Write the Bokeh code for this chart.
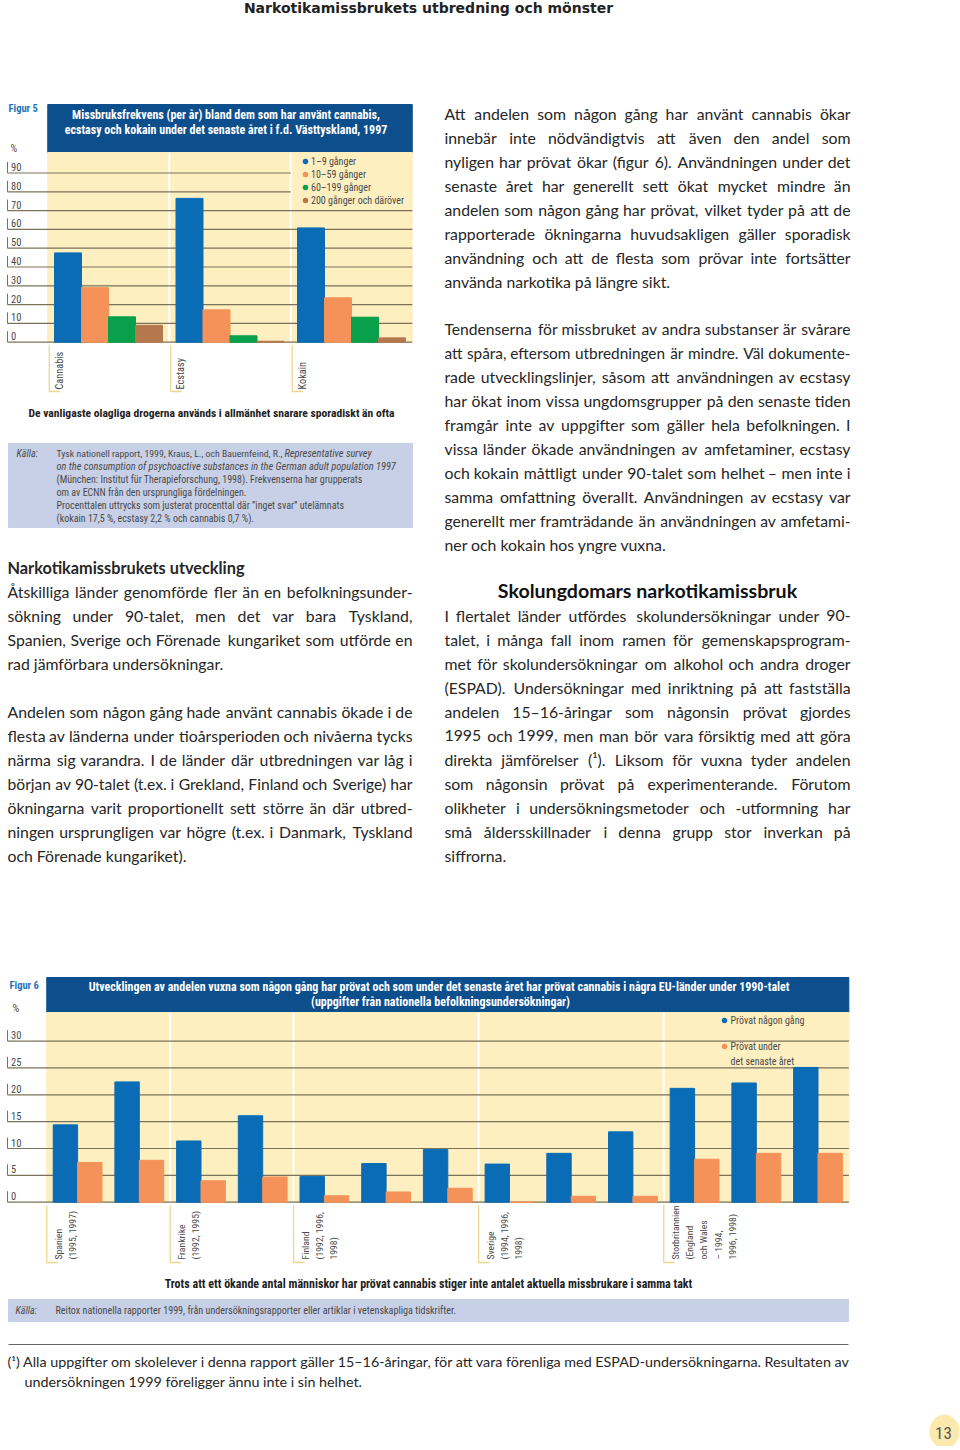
import numpy as np
from bokeh.plotting import figure
from bokeh.models import Range1d
from bokeh.core.properties import value
from bokeh.embed import file_html
from bokeh.resources import INLINE

# ---------------- data ----------------
page_title = "Narkotikamissbrukets utbredning och mönster"

f5_label = "Figur 5"
f5_title = ["Missbruksfrekvens (per år) bland dem som har använt cannabis,",
            "ecstasy och kokain under det senaste året i f.d. Västtyskland, 1997"]
f5_categories = ["Cannabis", "Ecstasy", "Kokain"]
f5_series = ["1–9 gånger", "10–59 gånger", "60–199 gånger", "200 gånger och däröver"]
f5_freq_1_9 = [47.5, 76.5, 60.8]
f5_freq_10_59 = [29.0, 17.2, 23.6]
f5_freq_60_199 = [13.5, 3.4, 13.3]
f5_freq_200 = [9.0, 0.5, 2.3]
f5_ticks = [0, 10, 20, 30, 40, 50, 60, 70, 80, 90]
f5_caption = "De vanligaste olagliga drogerna används i allmänhet snarare sporadiskt än ofta"
f5_source_lead = "Tysk nationell rapport, 1999, Kraus, L., och Bauernfeind, R.,"
f5_source_lead_it = "Representative survey"
f5_source_it = "on the consumption of psychoactive substances in the German adult population 1997"
f5_source_rest = ["(München: Institut für Therapieforschung, 1998). Frekvenserna har grupperats",
                  "om av ECNN från den ursprungliga fördelningen.",
                  "Procenttalen uttrycks som justerat procenttal där ”inget svar” utelämnats",
                  "(kokain 17,5 %, ecstasy 2,2 % och cannabis 0,7 %)."]

f6_label = "Figur 6"
f6_title = ["Utvecklingen av andelen vuxna som någon gång har prövat och som under det senaste året har prövat cannabis  i några EU-länder under 1990-talet",
            "(uppgifter från nationella befolkningsundersökningar)"]
f6_countries = ["Spanien\n(1995, 1997)",
                "Frankrike\n(1992, 1995)",
                "Finland\n(1992, 1996,\n   1998)",
                "Sverige\n(1994, 1996,\n   1998)",
                "Storbritannien\n(England\noch Wales\n   – 1994,\n1996, 1998)"]
f6_group_sizes = [2, 2, 3, 3, 3]
f6_ever = [14.4, 22.4, 11.4, 16.1, 4.8, 7.2, 9.8, 7.1, 9.1, 13.1, 21.2, 22.2, 25.1]
f6_last_year = [7.4, 7.8, 4.0, 4.7, 1.2, 1.9, 2.6, 0.0, 1.1, 1.1, 8.0, 9.1, 9.1]
f6_ticks = [0, 5, 10, 15, 20, 25, 30]
f6_series = ["Prövat någon gång", "Prövat under\ndet senaste året"]
f6_caption = "Trots att ett ökande antal människor har prövat cannabis stiger inte antalet aktuella missbrukare i samma takt"
f6_source = "Reitox nationella rapporter 1999, från undersökningsrapporter eller artiklar i vetenskapliga tidskrifter."

left_heading = "Narkotikamissbrukets utveckling"
left_par1 = ["Åtskilliga länder genomförde fler än en befolkningsunder-",
             "sökning under 90-talet, men det var bara Tyskland,",
             "Spanien, Sverige och Förenade kungariket som utförde en",
             "rad jämförbara undersökningar."]
left_par2 = ["Andelen som någon gång hade använt cannabis ökade i de",
             "flesta av länderna under tioårsperioden och nivåerna tycks",
             "närma sig varandra. I de länder där utbredningen var låg i",
             "början av 90-talet (t.ex. i Grekland, Finland och Sverige) har",
             "ökningarna varit proportionellt sett större än där utbred-",
             "ningen ursprungligen var högre (t.ex. i Danmark, Tyskland",
             "och Förenade kungariket)."]
right_par1 = ["Att andelen som någon gång har använt cannabis ökar",
              "innebär inte nödvändigtvis att även den andel som",
              "nyligen har prövat ökar (figur 6). Användningen under det",
              "senaste året har generellt sett ökat mycket mindre än",
              "andelen som någon gång har prövat, vilket tyder på att de",
              "rapporterade ökningarna huvudsakligen gäller sporadisk",
              "användning och att de flesta som prövar inte fortsätter",
              "använda narkotika på längre sikt."]
right_par2 = ["Tendenserna för missbruket av andra substanser är svårare",
              "att spåra, eftersom utbredningen är mindre. Väl dokumente-",
              "rade utvecklingslinjer, såsom att användningen av ecstasy",
              "har ökat inom vissa ungdomsgrupper på den senaste tiden",
              "framgår inte av uppgifter som gäller hela befolkningen. I",
              "vissa länder ökade användningen av amfetaminer, ecstasy",
              "och kokain måttligt under 90-talet som helhet – men inte i",
              "samma omfattning överallt. Användningen av ecstasy var",
              "generellt mer framträdande än användningen av amfetami-",
              "ner och kokain hos yngre vuxna."]
right_heading = "Skolungdomars narkotikamissbruk"
right_par3 = ["I flertalet länder utfördes skolundersökningar under 90-",
              "talet, i många fall inom ramen för gemenskapsprogram-",
              "met för skolundersökningar om alkohol och andra droger",
              "(ESPAD). Undersökningar med inriktning på att fastställa",
              "andelen 15–16-åringar som någonsin prövat gjordes",
              "1995 och 1999, men man bör vara försiktig med att göra",
              "direkta jämförelser (¹). Liksom för vuxna tyder andelen",
              "som någonsin prövat på experimenterande. Förutom",
              "olikheter i undersökningsmetoder och -utformning har",
              "små åldersskillnader i denna grupp stor inverkan på",
              "siffrorna."]
footnote = ["(¹) Alla uppgifter om skolelever i denna rapport gäller 15–16-åringar, för att vara förenliga med ESPAD-undersökningarna. Resultaten av",
            "undersökningen 1999 föreligger ännu inte i sin helhet."]
page_number = "13"

# ---------------- styling ----------------
BLUE = "#0b6cb6"
ORANGE = "#f5925a"
GREEN = "#08a04a"
BROWN = "#b5774d"
NAVY = "#0d4e8c"
CREAM = "#fdefc0"
GRID = "#7a7258"
SRC = "#c7d0e7"
FIGBLUE = "#1f74bb"
TAN = "#f0d590"
TXT = "#262626"
CTXT = "#4a4a4a"
COND = "Roboto Condensed, Liberation Sans Narrow, DejaVu Sans Condensed, Roboto"
BODY = "Lato"

W, H = 960, 1446
p = figure(width=W, height=H, x_range=Range1d(0, W), y_range=Range1d(H, 0),
           output_backend="svg", toolbar_location=None, min_border=0,
           x_axis_location=None, y_axis_location=None)
p.grid.visible = False
p.outline_line_color = None
p.background_fill_color = "white"
p.border_fill_color = "white"


def txt(x, y, s, size, font=COND, color=TXT, style="normal", align="left",
        baseline="middle", angle=0.0, xr="default", yr="default", lh=1.2,
        xo=0, yo=0):
    xs = x if isinstance(x, list) else [x]
    ys = y if isinstance(y, list) else [y]
    ss = s if isinstance(s, list) else [s]
    n = max(len(xs), len(ys), len(ss))
    xs = xs * n if len(xs) == 1 else xs
    ys = ys * n if len(ys) == 1 else ys
    ss = ss * n if len(ss) == 1 else ss
    fs = [f"{v}px" for v in size] if isinstance(size, list) else f"{size}px"
    p.text(x=xs, y=ys, text=ss, text_font=value(font), text_font_size=fs,
           text_color=color, text_font_style=style, text_align=align,
           text_baseline=baseline, angle=angle, x_range_name=xr, y_range_name=yr,
           text_line_height=lh, x_offset=xo, y_offset=yo)


# approximate Lato advance widths (em), used only to justify the body text
CW = {' ': 0.193, 'a': 0.49, 'b': 0.55, 'c': 0.45, 'd': 0.55, 'e': 0.51, 'f': 0.32, 'g': 0.49,
      'h': 0.55, 'i': 0.235, 'j': 0.235, 'k': 0.5, 'l': 0.235, 'm': 0.83, 'n': 0.55, 'o': 0.55,
      'p': 0.54, 'q': 0.55, 'r': 0.37, 's': 0.42, 't': 0.35, 'u': 0.55, 'v': 0.5, 'w': 0.76,
      'x': 0.49, 'y': 0.5, 'z': 0.44, 'å': 0.49, 'ä': 0.49, 'ö': 0.55, 'ü': 0.55, 'é': 0.51,
      'I': 0.27, 'J': 0.38, 'T': 0.56, 'F': 0.55, 'E': 0.56, 'L': 0.5, 'S': 0.52, 'P': 0.6,
      'A': 0.66, 'Å': 0.66, 'V': 0.66, 'M': 0.85, 'D': 0.72, 'G': 0.7, 'K': 0.64, 'U': 0.7,
      'N': 0.73, 'O': 0.77, 'R': 0.62, 'C': 0.65, 'B': 0.63,
      ',': 0.2, '.': 0.2, '-': 0.34, '(': 0.3, ')': 0.3, '–': 0.5, '¹': 0.35, ':': 0.2}


def est_w(word, size):
    tot = 0.0
    for c in word:
        if c in CW:
            tot += CW[c]
        elif c.isdigit():
            tot += 0.58
        elif c.isupper():
            tot += 0.65
        else:
            tot += 0.5
    return tot * size * 1.03


def body(lines, x0, x1, y0, size=15.8, lp=24, min_gap=3.6):
    lx, ly, lt, ls, rx, ry, rt, rs = [], [], [], [], [], [], [], []
    for li, line in enumerate(lines):
        y = y0 + lp * li
        words = line.split(" ")
        if li == len(lines) - 1 or len(words) == 1:
            lx.append(x0); ly.append(y); lt.append(line); ls.append(size)
            continue
        n = len(words)
        ws = [est_w(w, size) for w in words]
        sz = size
        gap = (x1 - x0 - sum(ws)) / (n - 1)
        if gap < min_gap:
            sc = (x1 - x0 - (n - 1) * min_gap) / sum(ws)
            ws = [w * sc for w in ws]
            sz = round(size * sc, 2)
            gap = min_gap
        half = (n + 1) // 2
        x = x0
        for i in range(half):
            lx.append(x); ly.append(y); lt.append(words[i]); ls.append(sz)
            x += ws[i] + gap
        x = x1
        for i in range(n - 1, half - 1, -1):
            rx.append(x); ry.append(y); rt.append(words[i]); rs.append(sz)
            x -= ws[i] + gap
    txt(lx, ly, lt, ls, font=BODY, color=TXT)
    if rt:
        txt(rx, ry, rt, rs, font=BODY, color=TXT, align="right")


# page header
txt(428, 7, page_title, 14, font="DejaVu Sans", style="bold", align="center", color="#222")

# ================= Figure 5 =================
F5_ZERO, F5_PX = 341.7, 1.88          # zero line (px), px per percent
F5_X0, F5_GP = 108.0, 121.5           # centre of first group, group pitch
F5_BW = 27.0 / F5_GP
F5_TOP, F5_HEAD = 152, 104
p.extra_y_ranges["f5y"] = Range1d(start=(F5_ZERO - H) / F5_PX, end=F5_ZERO / F5_PX)
p.extra_x_ranges["f5x"] = Range1d(start=(0 - F5_X0) / F5_GP, end=(W - F5_X0) / F5_GP)
n5 = len(f5_categories)
f5_px = lambda g: F5_X0 + g * F5_GP

p.quad(left=[-0.5], right=[n5 - 0.5], top=[F5_HEAD], bottom=[F5_TOP], color=NAVY, x_range_name="f5x")
p.quad(left=[-0.5], right=[n5 - 0.5], top=[F5_TOP], bottom=[F5_ZERO], color=CREAM, x_range_name="f5x")
p.segment(x0=[g + 0.5 for g in range(n5 - 1)], x1=[g + 0.5 for g in range(n5 - 1)],
          y0=F5_TOP, y1=F5_ZERO, line_color="white", line_width=2, x_range_name="f5x")
txt(f5_px(1.0) - 4, [F5_HEAD + 10, F5_HEAD + 25], f5_title, 12, color="white", style="bold", align="center")
txt(8, 108, f5_label, 10.5, color=FIGBLUE, style="bold")
txt(10, 148, "%", 10.5, color=CTXT)

legend_bottom_val = (F5_ZERO - 206) / F5_PX
x_end = [f5_px(n5 - 1.5) if t > legend_bottom_val else f5_px(n5 - 0.5) for t in f5_ticks]
p.segment(x0=[7] * len(f5_ticks), x1=x_end, y0=f5_ticks, y1=f5_ticks,
          line_color=GRID, line_width=1.2, y_range_name="f5y")
p.segment(x0=[7] * len(f5_ticks), x1=[7] * len(f5_ticks), y0=f5_ticks,
          y1=[t + 11 / F5_PX for t in f5_ticks], line_color=GRID, line_width=1, y_range_name="f5y")
txt(10.5, f5_ticks, [str(t) for t in f5_ticks], 10.5, color=CTXT, yr="f5y", yo=-6)

f5_values = [f5_freq_1_9, f5_freq_10_59, f5_freq_60_199, f5_freq_200]
f5_colors = [BLUE, ORANGE, GREEN, BROWN]
for j, (vals, col) in enumerate(zip(f5_values, f5_colors)):
    xs = [g + (j - 1.5) * F5_BW for g in range(n5)]
    p.vbar(x=xs, width=F5_BW, top=vals, bottom=0, color=col,
           x_range_name="f5x", y_range_name="f5y")

leg_y = [161 + 13 * i for i in range(len(f5_series))]
p.scatter(x=[305] * 4, y=leg_y, size=5.5, color=f5_colors, line_color=None)
txt(310.5, leg_y, f5_series, 10, color=CTXT)

for g, cat in enumerate(f5_categories):
    bx = f5_px(g - 0.5) + 1.5
    p.line(x=[bx, bx, bx + 11], y=[F5_ZERO + 3, 391, 391], line_color=TAN, line_width=1.3)
txt([g - 0.5 for g in range(n5)], 389, f5_categories, 10.3, color=CTXT,
    angle=np.pi / 2, baseline="top", xr="f5x", xo=5)

txt(211, 412, f5_caption, 11.6, color="#222", style="bold", align="center")

p.quad(left=[8], right=[412], top=[443], bottom=[527], color=SRC)
txt(16, 453, "Källa:", 10, color=CTXT, style="italic")
txt(56, 453, f5_source_lead, 9.8, color=CTXT)
txt(284, 453, f5_source_lead_it, 10.4, color=CTXT, style="italic")
txt(56, 466, f5_source_it, 10.4, color=CTXT, style="italic")
txt(56, [479 + 13 * i for i in range(len(f5_source_rest))], f5_source_rest, 10, color=CTXT)

# ================= body text =================
txt(7, 567, left_heading, 16.3, font=BODY, style="bold", color=TXT)
body(left_par1, 7, 412, 591)
body(left_par2, 7, 412, 711)
body(right_par1, 444, 850, 113)
body(right_par2, 444, 850, 328)
txt(647, 590, right_heading, 19.6, font=BODY, style="bold", color="#111", align="center")
body(right_par3, 444, 850, 615)

# ================= Figure 6 =================
F6_ZERO, F6_PX = 1201.7, 5.37
F6_X0, F6_GP = 77.1, 61.7
F6_BW = 24.4 / F6_GP
F6_TOP, F6_HEAD = 1012, 977
n6 = len(f6_ever)
p.extra_y_ranges["f6y"] = Range1d(start=(F6_ZERO - H) / F6_PX, end=F6_ZERO / F6_PX)
p.extra_x_ranges["f6x"] = Range1d(start=(0 - F6_X0) / F6_GP, end=(W - F6_X0) / F6_GP)
f6_px = lambda k: F6_X0 + k * F6_GP
group_start = [int(v) for v in np.cumsum([0] + f6_group_sizes[:-1])]

p.quad(left=[-0.5], right=[n6 - 0.5], top=[F6_HEAD], bottom=[F6_TOP], color=NAVY, x_range_name="f6x")
p.quad(left=[-0.5], right=[n6 - 0.5], top=[F6_TOP], bottom=[F6_ZERO], color=CREAM, x_range_name="f6x")
seps = [s - 0.5 for s in group_start[1:]]
p.segment(x0=seps, x1=seps, y0=F6_TOP, y1=F6_ZERO, line_color="white", line_width=2, x_range_name="f6x")
txt(440, [F6_HEAD + 9, F6_HEAD + 24], f6_title, 12, color="white", style="bold", align="center")
txt(9, 985, f6_label, 10.5, color=FIGBLUE, style="bold")
txt(12, 1008, "%", 10.5, color=CTXT)

p.segment(x0=[7] * len(f6_ticks), x1=[f6_px(n6 - 0.5)] * len(f6_ticks), y0=f6_ticks, y1=f6_ticks,
          line_color=GRID, line_width=1.2, y_range_name="f6y")
p.segment(x0=[7] * len(f6_ticks), x1=[7] * len(f6_ticks), y0=f6_ticks,
          y1=[t + 11 / F6_PX for t in f6_ticks], line_color=GRID, line_width=1, y_range_name="f6y")
txt(10.5, f6_ticks, [str(t) for t in f6_ticks], 10.5, color=CTXT, yr="f6y", yo=-6)

ks = list(range(n6))
p.vbar(x=[k - F6_BW / 2 for k in ks], width=F6_BW, top=f6_ever, bottom=0, color=BLUE,
       x_range_name="f6x", y_range_name="f6y")
p.vbar(x=[k + F6_BW / 2 for k in ks], width=F6_BW, top=f6_last_year, bottom=0, color=ORANGE,
       x_range_name="f6x", y_range_name="f6y")

p.scatter(x=[724, 724], y=[1020, 1046], size=5.5, color=[BLUE, ORANGE], line_color=None)
txt(730, [1020, 1053.5], f6_series, 10, color=CTXT, lh=1.3)

for s in group_start:
    bx = f6_px(s - 0.5)
    p.line(x=[bx, bx, bx + 11], y=[F6_ZERO + 3, 1262, 1262], line_color=TAN, line_width=1.3)
txt([s - 0.5 for s in group_start], 1259, f6_countries, 9.7, color=CTXT,
    angle=np.pi / 2, baseline="top", xr="f6x", xo=6, lh=1.3)

txt(428, 1283, f6_caption, 12, color="#222", style="bold", align="center")
p.quad(left=[8], right=[848], top=[1299], bottom=[1321], color=SRC)
txt(15, 1310, "Källa:", 10, color=CTXT, style="italic")
txt(55, 1310, f6_source, 10.1, color=CTXT)

# footnote
p.segment(x0=[8], x1=[848], y0=[1344], y1=[1344], line_color="#666", line_width=1)
txt(7, 1361, footnote[0], 14.3, font=BODY, color=TXT)
txt(24, 1381, footnote[1], 14.3, font=BODY, color=TXT)

# page number
p.ellipse(x=[944], y=[1431], width=29, height=33, color="#fce9ad")
txt(943, 1432, page_number, 17, color="#555", align="center")

open("out.html", "w").write(file_html(p, INLINE))
